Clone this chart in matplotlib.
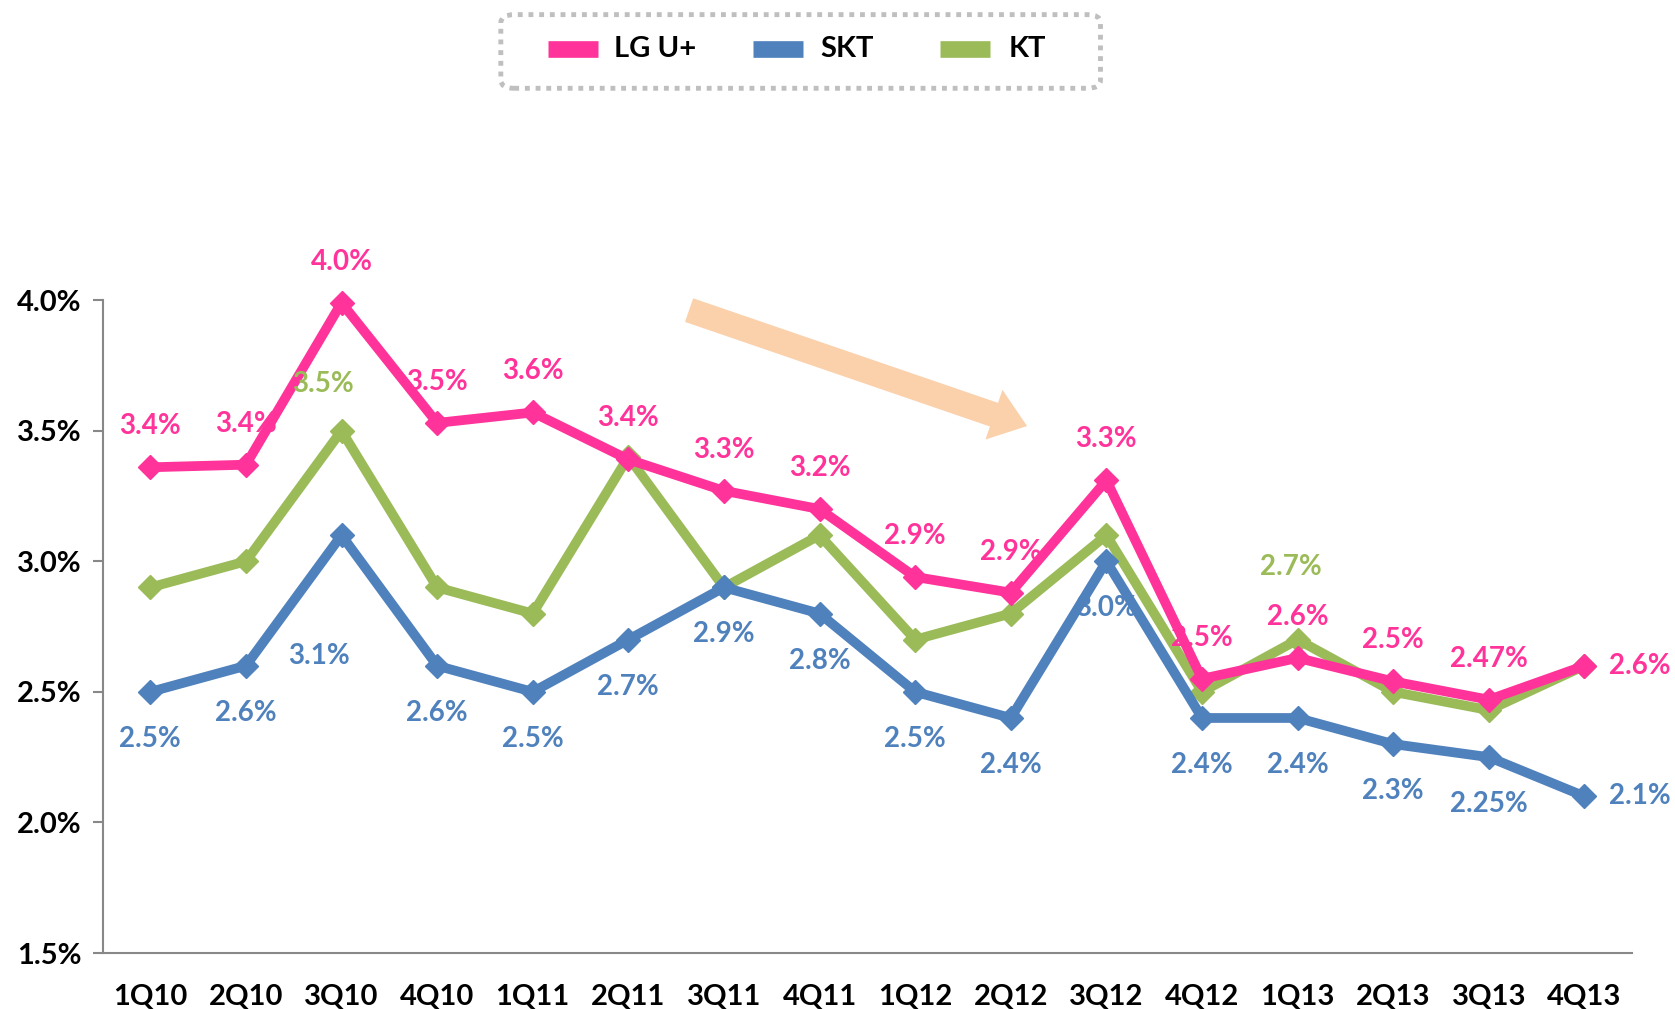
import matplotlib
matplotlib.use("Agg")
import matplotlib.pyplot as plt
from matplotlib.patches import FancyBboxPatch
from matplotlib.lines import Line2D

plt.rcParams['font.family'] = ['Lato', 'DejaVu Sans']

# Données
quarters = ["1Q10", "2Q10", "3Q10", "4Q10", "1Q11", "2Q11", "3Q11", "4Q11",
            "1Q12", "2Q12", "3Q12", "4Q12", "1Q13", "2Q13", "3Q13", "4Q13"]
lgu = [3.36, 3.37, 3.99, 3.53, 3.57, 3.39, 3.27, 3.20,
       2.94, 2.88, 3.31, 2.55, 2.63, 2.54, 2.47, 2.60]
skt = [2.50, 2.60, 3.10, 2.60, 2.50, 2.70, 2.90, 2.80,
       2.50, 2.40, 3.00, 2.40, 2.40, 2.30, 2.25, 2.10]
kt = [2.90, 3.00, 3.50, 2.90, 2.80, 3.40, 2.90, 3.10,
      2.70, 2.80, 3.10, 2.50, 2.70, 2.50, 2.43, 2.60]
lgu_labels = ["3.4%", "3.4%", "4.0%", "3.5%", "3.6%", "3.4%", "3.3%", "3.2%",
              "2.9%", "2.9%", "3.3%", "2.5%", "2.6%", "2.5%", "2.47%", "2.6%"]
skt_labels = ["2.5%", "2.6%", "3.1%", "2.6%", "2.5%", "2.7%", "2.9%", "2.8%",
              "2.5%", "2.4%", "3.0%", "2.4%", "2.4%", "2.3%", "2.25%", "2.1%"]
kt_labels = {2: "3.5%", 12: "2.7%"}
yticks = [1.5, 2.0, 2.5, 3.0, 3.5, 4.0]

PINK = "#FF3399"
BLUE = "#4F81BD"
GREEN = "#9BBB59"

fig = plt.figure(figsize=(16.75, 10.09), dpi=100)
ax = fig.add_axes([0.0612, 0.0555, 0.9133, 0.647])

x = list(range(len(quarters)))
for vals, col in [(kt, GREEN), (skt, BLUE), (lgu, PINK)]:
    ax.plot(x, vals, color=col, linewidth=7, marker="D", markersize=12,
            clip_on=False, solid_joinstyle="miter")

# Étiquettes (décalages en pixels)
def lab(i, y, txt, col, dx, dy):
    ax.annotate(txt, (i, y), xytext=(dx, dy), textcoords="offset pixels",
                ha="center", va="center", color=col, fontsize=20,
                fontweight="bold", annotation_clip=False)

for i, (v, t) in enumerate(zip(lgu, lgu_labels)):
    if i == len(lgu) - 1:
        lab(i, v, t, PINK, 55, 0)
    else:
        lab(i, v, t, PINK, 0, 41)

for i, (v, t) in enumerate(zip(skt, skt_labels)):
    if i == len(skt) - 1:
        lab(i, v, t, BLUE, 55, 0)
    elif i == 2:
        lab(i, v, t, BLUE, -23, -121)
    else:
        lab(i, v, t, BLUE, 0, -47)

kt_off = {2: (-19, 47), 12: (-7, 73)}
for i, t in kt_labels.items():
    lab(i, kt[i], t, GREEN, *kt_off[i])

# Flèche de tendance
ax.annotate("", xy=(9.17, 3.518), xytext=(5.635, 3.962),
            arrowprops=dict(arrowstyle="simple,head_length=1.4,head_width=2.1,tail_width=1.0",
                            mutation_scale=18, color="#FBD1AC", linewidth=0,
                            shrinkA=0, shrinkB=0), zorder=1)

ax.set_xlim(-0.5, len(quarters) - 0.5)
ax.set_ylim(1.5, 4.0)
ax.set_xticks(x)
ax.set_xticklabels(quarters)
ax.set_yticks(yticks)
ax.set_yticklabels([f"{t:.1f}%" for t in yticks])
ax.tick_params(axis="x", length=0, pad=22, labelsize=21)
ax.tick_params(axis="y", length=7, width=1.5, color="#888888", pad=8, labelsize=21)
for t in ax.get_xticklabels() + ax.get_yticklabels():
    t.set_fontweight("bold")
for s in ["top", "right"]:
    ax.spines[s].set_visible(False)
for s in ["left", "bottom"]:
    ax.spines[s].set_color("#888888")
    ax.spines[s].set_linewidth(1.5)

# Légende
box = FancyBboxPatch((0.2990, 0.9125), 0.3580, 0.0730,
                     boxstyle="round,pad=0,rounding_size=0.008",
                     transform=fig.transFigure, fill=False,
                     edgecolor="#BFBFBF", linewidth=3.5, linestyle=(0, (1, 1.2)))
fig.add_artist(box)
ly = 1 - 49 / 1009
for (x0, x1, tx, name, col) in [(548, 598, 614, "LG U+", PINK),
                                 (753, 803, 820, "SKT", BLUE),
                                 (940, 990, 1009, "KT", GREEN)]:
    fig.add_artist(Line2D([x0 / 1675, x1 / 1675], [ly, ly], color=col,
                          linewidth=12, solid_capstyle="butt",
                          transform=fig.transFigure))
    fig.text(tx / 1675, ly, name, ha="left", va="center", fontsize=21,
             fontweight="bold", color="black")

fig.savefig("out.png", dpi=100)
